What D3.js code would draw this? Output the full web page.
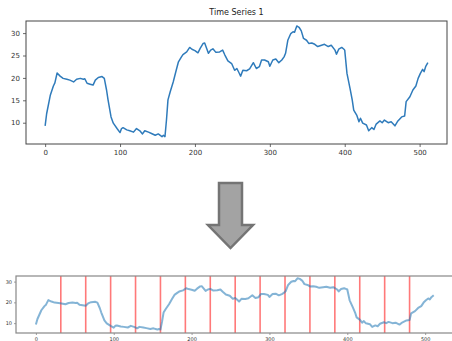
<!DOCTYPE html>
<html>
<head>
<meta charset="utf-8">
<script src="https://cdn.jsdelivr.net/npm/d3@7"></script>
<style>
  html, body { margin: 0; padding: 0; background: #fff; }
  svg { display: block; }
  text { font-family: "DejaVu Sans", sans-serif; }
</style>
</head>
<body>
<svg id="chart" width="452" height="341"></svg>
<script>
// Sample indices of the series and the value at each index
const ts = [0, 2, 7, 11, 13, 16, 20, 24, 29, 33, 38, 42, 47, 51, 53, 56, 60, 64, 67, 71,
  76, 79, 82, 84, 88, 91, 96, 100, 102, 104, 109, 113, 118, 122, 127, 130, 133, 138, 142, 147,
  151, 156, 158, 160, 162, 164, 167, 171, 175, 178, 182, 184, 189, 193, 196, 200, 204, 207, 211, 213,
  218, 221, 224, 228, 233, 237, 240, 244, 249, 253, 256, 259, 261, 264, 269, 273, 278, 282, 286, 289,
  293, 298, 300, 304, 308, 312, 316, 319, 321, 324, 328, 331, 333, 336, 339, 342, 345, 349, 352, 356,
  360, 364, 369, 373, 378, 382, 387, 389, 392, 396, 399, 400, 403, 407, 410, 412, 416, 419, 421, 424,
  429, 432, 436, 439, 442, 447, 450, 453, 458, 462, 467, 471, 476, 480, 482, 487, 491, 495, 498, 501,
  504, 506, 508, 511];
const values = [9.3, 12.0, 16.2, 18.2, 18.9, 21.1, 20.4, 19.9, 19.7, 19.5, 19.1, 19.7, 19.9, 19.7, 19.8, 18.8, 18.6, 18.4, 19.5, 20.1,
  20.3, 19.9, 17.3, 15.1, 11.3, 9.9, 8.7, 7.8, 8.7, 8.9, 8.4, 8.2, 7.9, 8.7, 8.1, 7.5, 8.2, 7.9, 7.6, 7.2,
  7.5, 6.9, 7.2, 6.9, 10.6, 15.1, 16.9, 19.1, 21.7, 23.6, 24.7, 25.2, 25.8, 26.8, 26.4, 26.1, 25.6, 26.6, 27.7, 27.8,
  25.5, 26.2, 26.5, 25.7, 25.8, 26.2, 25.1, 23.8, 23.2, 21.7, 22.1, 21.1, 20.4, 21.7, 21.6, 22.0, 23.4, 22.1, 22.5, 24.0,
  24.0, 23.6, 22.6, 24.0, 24.2, 23.4, 24.0, 24.7, 25.5, 28.4, 29.9, 30.3, 30.2, 31.6, 31.3, 30.5, 28.8, 28.4, 27.7, 27.8,
  27.5, 27.0, 27.3, 27.5, 27.0, 27.3, 26.2, 25.3, 26.4, 26.8, 26.4, 26.2, 21.0, 17.7, 15.1, 12.8, 11.7, 10.2, 11.0, 9.9,
  9.5, 8.2, 8.9, 8.5, 9.7, 10.4, 10.0, 10.6, 10.0, 10.2, 9.3, 10.4, 11.3, 11.5, 14.7, 15.8, 17.3, 18.2, 19.9, 21.0,
  21.9, 21.4, 22.5, 23.4];
const segmentBounds = [32, 64, 96, 128, 160, 192, 224, 256, 288, 320, 352, 384, 416, 448, 480];
const xTicks = [0, 100, 200, 300, 400, 500];
const yTicksTop = [10, 15, 20, 25, 30];
const yTicksBottom = [10, 20, 30];
const title = "Time Series 1";

const svg = d3.select("#chart");
const series = ts.map((t, i) => ({ t, v: values[i] }));
const xDomain = [-25.55, 536.55];
const yDomain = [5.25, 32.7];

function panel(box, opts) {
  const x = d3.scaleLinear().domain(xDomain).range([box.left, box.right]);
  const y = d3.scaleLinear().domain(yDomain).range([box.bottom, box.top]);
  const g = svg.append("g");

  const clipId = "clip" + opts.id;
  svg.append("clipPath").attr("id", clipId)
    .append("rect").attr("x", box.left).attr("y", box.top)
    .attr("width", box.right - box.left).attr("height", box.bottom - box.top);

  const plot = g.append("g").attr("clip-path", `url(#${clipId})`);

  if (opts.bounds) {
    plot.selectAll("line.bound").data(opts.bounds).join("line")
      .attr("class", "bound")
      .attr("x1", d => x(d)).attr("x2", d => x(d))
      .attr("y1", box.top).attr("y2", box.bottom)
      .attr("stroke", "#ff2020").attr("stroke-opacity", 0.6)
      .attr("stroke-width", 1.6);
  }

  plot.append("path").datum(series)
    .attr("fill", "none")
    .attr("stroke", opts.lineColor)
    .attr("stroke-opacity", opts.lineOpacity)
    .attr("stroke-width", opts.lineWidth)
    .attr("stroke-linejoin", "round")
    .attr("d", d3.line().x(d => x(d.t)).y(d => y(d.v)));

  const xAxis = d3.axisBottom(x).tickValues(xTicks).tickSize(opts.tickLen).tickPadding(opts.tickPad).tickFormat(d3.format("d"));
  const yAxis = d3.axisLeft(y).tickValues(opts.yTicks).tickSize(opts.tickLen).tickPadding(opts.tickPad).tickFormat(d3.format("d"));

  const gx = g.append("g").attr("transform", `translate(0,${box.bottom})`).call(xAxis);
  const gy = g.append("g").attr("transform", `translate(${box.left},0)`).call(yAxis);
  [gx, gy].forEach(a => {
    a.select(".domain").remove();
    a.selectAll(".tick line").attr("stroke", opts.frameColor).attr("stroke-width", 0.8);
    a.selectAll(".tick text").attr("fill", "#333").attr("font-size", opts.fontSize)
      .attr("font-family", "DejaVu Sans, sans-serif");
  });

  g.append("rect")
    .attr("x", box.left).attr("y", box.top)
    .attr("width", box.right - box.left).attr("height", box.bottom - box.top)
    .attr("fill", "none").attr("stroke", opts.frameColor).attr("stroke-width", opts.frameWidth);
}

// Upper chart: the full series
panel({ left: 26, right: 447, top: 21, bottom: 144 }, {
  id: "top", yTicks: yTicksTop, lineColor: "#2f7bbb", lineOpacity: 1, lineWidth: 1.5,
  frameColor: "#444", frameWidth: 1, fontSize: 7, tickLen: 3, tickPad: 3
});

svg.append("text")
  .attr("x", 236.5).attr("y", 15)
  .attr("text-anchor", "middle")
  .attr("font-size", 8).attr("fill", "#222")
  .text(title);

// Downward arrow between the two charts
const ax = 230.5, aTop = 183, aShoulder = 225, aTip = 248, shaftHalf = 11.5, headHalf = 22.5;
svg.append("path")
  .attr("d", d3.line()([
    [ax - shaftHalf, aTop], [ax + shaftHalf, aTop], [ax + shaftHalf, aShoulder],
    [ax + headHalf, aShoulder], [ax, aTip], [ax - headHalf, aShoulder],
    [ax - shaftHalf, aShoulder]
  ]) + "Z")
  .attr("fill", "#a3a3a3").attr("stroke", "#747474").attr("stroke-width", 2.5)
  .attr("stroke-linejoin", "miter");

// Lower chart: the same series split into windows of 32 steps
panel({ left: 16, right: 453.6, top: 276, bottom: 333 }, {
  id: "bottom", yTicks: yTicksBottom, bounds: segmentBounds,
  lineColor: "#1f77b4", lineOpacity: 0.55, lineWidth: 2,
  frameColor: "#888", frameWidth: 1.2, fontSize: 5, tickLen: 2, tickPad: 2
});
</script>
</body>
</html>
